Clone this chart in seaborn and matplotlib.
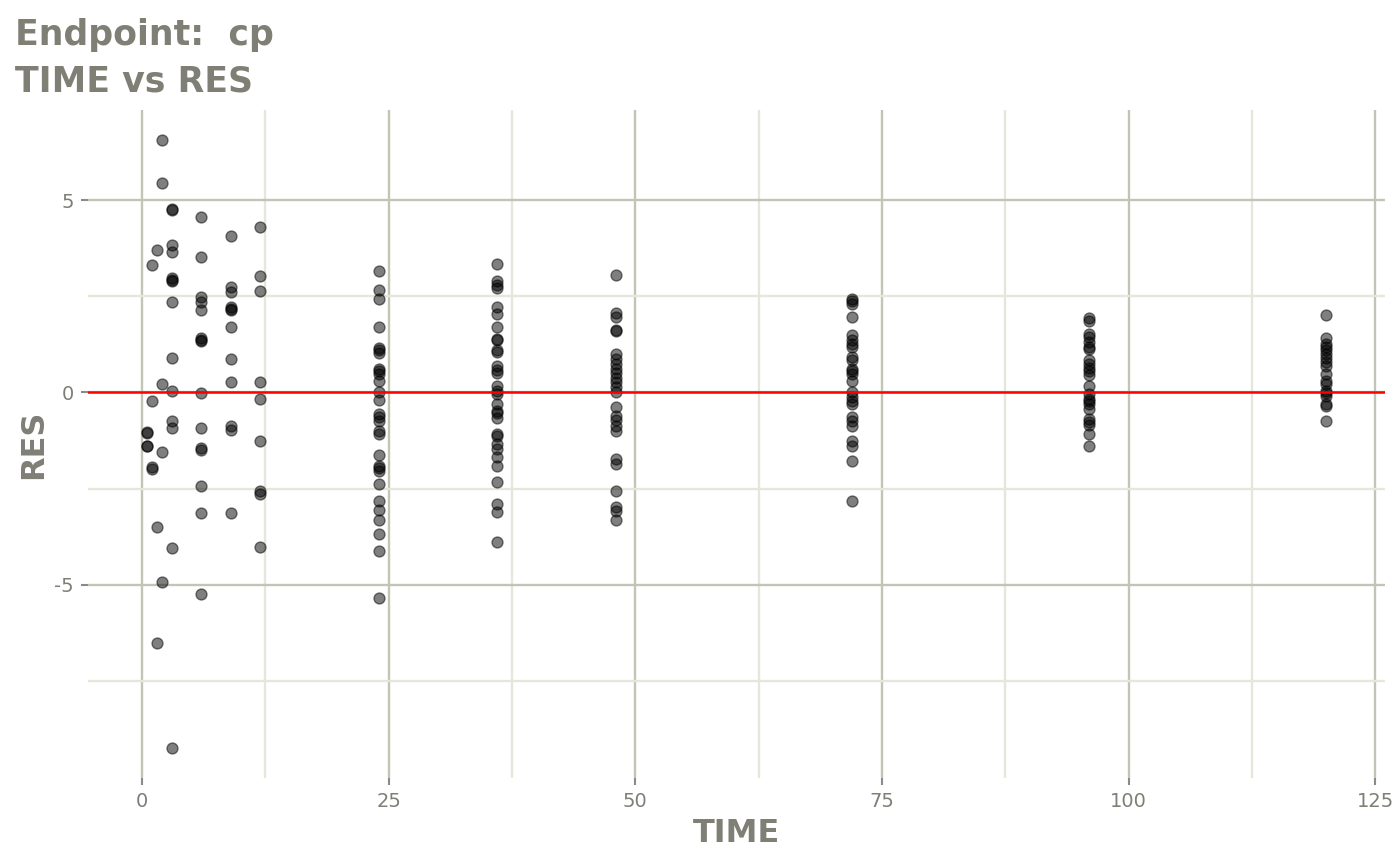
import numpy as np
import pandas as pd
import seaborn as sns
import matplotlib.pyplot as plt
from matplotlib.ticker import FixedLocator

# ---------- DATA ----------
times = [0.5, 1, 1.5, 2, 3, 6, 9, 12, 24, 36, 48, 72, 96, 120]

res_t0_5 = [-1.04, -1.06, -1.38, -1.40]
res_t1 = [3.30, -0.22, -1.94, -1.98]
res_t1_5 = [3.69, -3.50, -6.50]
res_t2 = [6.55, 5.45, 0.21, -1.55, -4.92]
res_t3 = [4.74, 4.76, 3.84, 3.64, 2.98, 2.89, 2.92, 2.34, 0.90, 0.04,
          -0.74, -0.92, -4.03, -9.23]
res_t6 = [4.57, 3.53, 2.49, 2.35, 2.15, 1.41, 1.33, 1.36, -0.02, -0.92,
          -1.45, -1.49, -2.43, -3.13, -5.23]
res_t9 = [4.07, 2.75, 2.61, 2.22, 2.13, 2.16, 1.69, 0.86, 0.27, -0.88,
          -0.97, -3.12]
res_t12 = [4.30, 3.03, 2.63, 0.28, -0.16, -1.25, -2.56, -2.65, -4.02]
res_t24 = [3.15, 2.65, 2.42, 1.71, 1.16, 1.09, 1.02, 0.62, 0.55, 0.49,
           0.31, 0.01, -0.19, -0.55, -0.64, -0.73, -0.99, -1.07, -1.62,
           -1.90, -1.97, -2.03, -2.37, -2.81, -3.06, -3.31, -3.67, -4.13,
           -5.33]
res_t36 = [3.34, 2.89, 2.80, 2.71, 2.23, 2.04, 1.71, 1.39, 1.35, 1.09,
           1.05, 0.68, 0.59, 0.50, 0.16, 0.05, -0.05, -0.29, -0.47, -0.54,
           -0.66, -1.07, -1.14, -1.33, -1.46, -1.68, -1.92, -2.33, -2.89,
           -3.11, -3.89]
res_t48 = [3.06, 2.06, 1.97, 1.63, 1.59, 1.00, 0.87, 0.74, 0.61, 0.50,
           0.38, 0.27, 0.14, 0.01, -0.38, -0.62, -0.71, -0.88, -0.99,
           -1.72, -1.87, -2.56, -2.98, -3.08, -3.32]
res_t72 = [2.43, 2.37, 2.30, 1.97, 1.48, 1.35, 1.26, 1.18, 0.92, 0.83,
           0.61, 0.55, 0.48, 0.31, 0.01, -0.12, -0.21, -0.31, -0.64,
           -0.74, -0.86, -1.25, -1.38, -1.77, -2.82]
res_t96 = [1.94, 1.85, 1.52, 1.44, 1.31, 1.19, 1.13, 0.83, 0.73, 0.64,
           0.55, 0.44, 0.16, -0.03, -0.16, -0.23, -0.31, -0.42, -0.68,
           -0.77, -0.84, -1.09, -1.38]
res_t120 = [2.01, 1.42, 1.26, 1.18, 1.09, 0.99, 0.90, 0.79, 0.68, 0.48,
            0.31, 0.23, 0.05, -0.02, -0.08, -0.31, -0.36, -0.75]

all_res = [res_t0_5, res_t1, res_t1_5, res_t2, res_t3, res_t6, res_t9,
           res_t12, res_t24, res_t36, res_t48, res_t72, res_t96, res_t120]

rows = []
for t, vals in zip(times, all_res):
    for v in vals:
        rows.append({"TIME": t, "RES": v})
df = pd.DataFrame(rows)

# ---------- STYLE ----------
sns.set_style("white")
plt.rcParams["font.family"] = ["DejaVu Sans"]
plt.rcParams["axes.unicode_minus"] = False
text_col = "#7f7f76"
major_col = "#c3c3b6"
minor_col = "#e6e6da"

fig = plt.figure(figsize=(14, 8.65), dpi=100)
ax = fig.add_axes([88 / 1400, 87 / 865, (1385 - 88) / 1400, (778 - 110) / 865])

# ---------- PLOT ----------
sns.scatterplot(data=df, x="TIME", y="RES", ax=ax, color="black",
                alpha=0.5, s=62, edgecolor="black", linewidth=1.0, zorder=3)
ax.axhline(0, color="red", linewidth=1.8, zorder=4)

# ggplot-like 5% expansion
xmin, xmax = df["TIME"].min(), df["TIME"].max()
ymin, ymax = df["RES"].min(), df["RES"].max()
ax.set_xlim(xmin - 0.05 * (xmax - xmin), xmax + 0.05 * (xmax - xmin))
ax.set_ylim(ymin - 0.05 * (ymax - ymin), ymax + 0.05 * (ymax - ymin))

ax.xaxis.set_major_locator(FixedLocator([0, 25, 50, 75, 100, 125]))
ax.xaxis.set_minor_locator(FixedLocator([12.5, 37.5, 62.5, 87.5, 112.5]))
ax.yaxis.set_major_locator(FixedLocator([-5, 0, 5]))
ax.yaxis.set_minor_locator(FixedLocator([-7.5, -2.5, 2.5]))

ax.grid(True, which="major", color=major_col, linewidth=1.7, zorder=0)
ax.grid(True, which="minor", color=minor_col, linewidth=1.7, zorder=0)
ax.set_axisbelow(True)
for sp in ax.spines.values():
    sp.set_visible(False)

ax.tick_params(which="major", length=5, width=1.5, color="#8a8a8a",
               labelcolor=text_col, labelsize=14, pad=5,
               bottom=True, left=True)
ax.tick_params(which="minor", length=0)

ax.set_xlabel("TIME", fontsize=23, fontweight="bold", color=text_col,
              labelpad=5)
ax.set_ylabel("RES", fontsize=23, fontweight="bold", color=text_col,
              labelpad=4)

fig.text(15 / 1400, 1 - 45 / 865, "Endpoint:  cp", fontsize=25,
         fontweight="bold", color=text_col, va="baseline", ha="left")
fig.text(15 / 1400, 1 - 92 / 865, "TIME vs RES", fontsize=25,
         fontweight="bold", color=text_col, va="baseline", ha="left")

fig.savefig("out.png", dpi=100)
